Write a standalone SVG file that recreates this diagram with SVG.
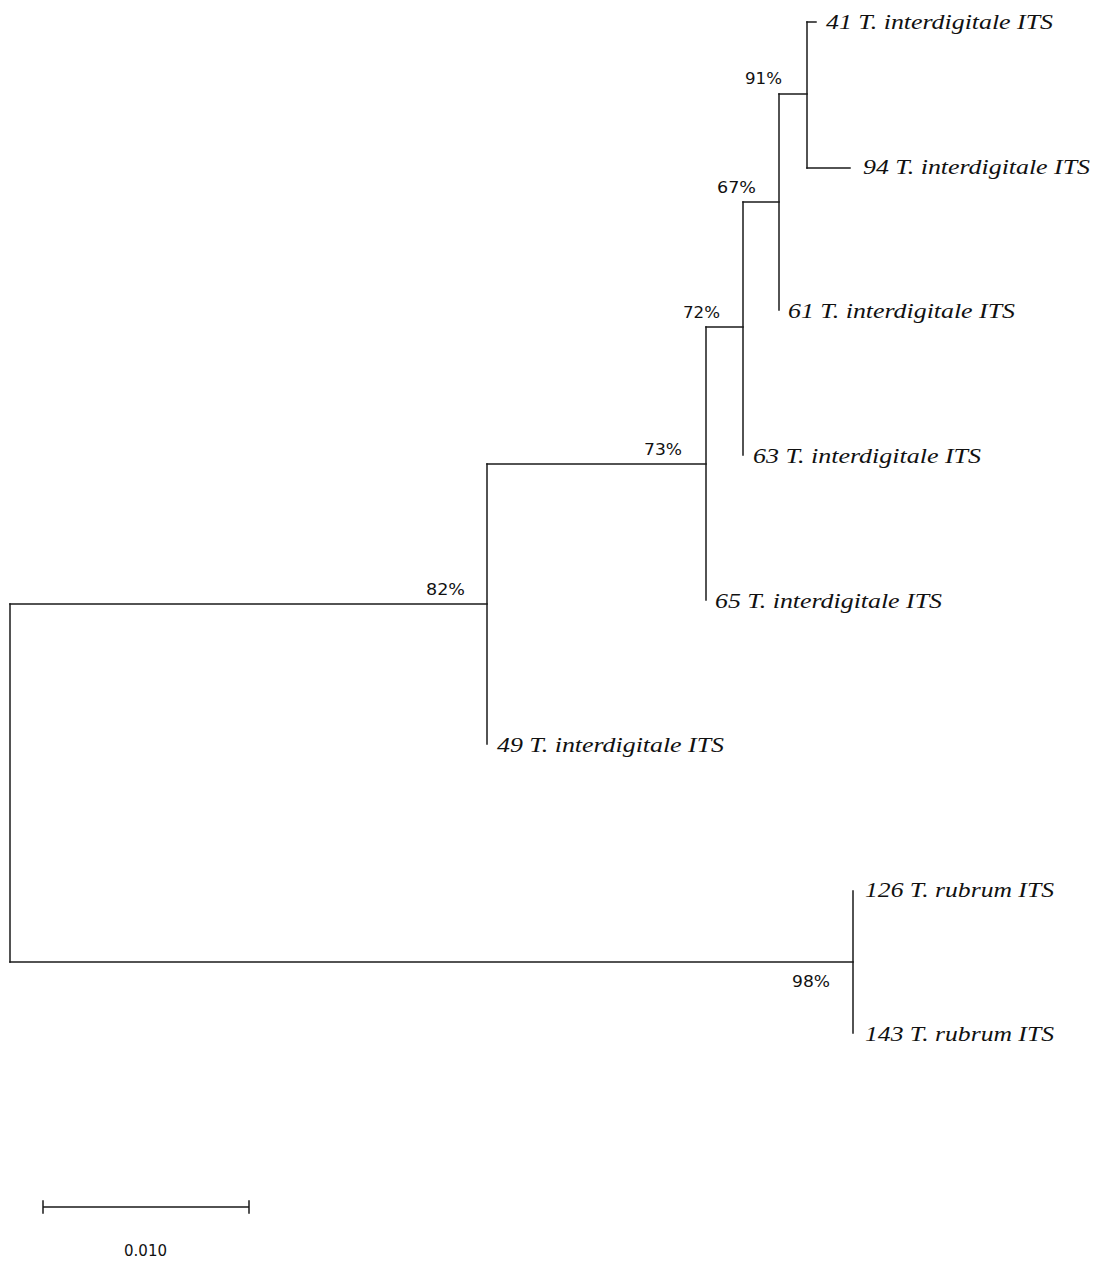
<svg xmlns="http://www.w3.org/2000/svg" width="1100" height="1264" viewBox="0 0 1100 1264">
<style>
.br{fill:none;stroke:#1a1a1a;stroke-width:1.5;stroke-linecap:square}
.leaf{font-family:"Liberation Serif","Times New Roman",serif;font-style:italic;font-size:22px;fill:#111}
.bs{font-family:"DejaVu Sans","Verdana",sans-serif;font-size:15px;fill:#111}
</style>
<rect width="1100" height="1264" fill="#fff"/>
<g id="connectors">
<path class="br" d="M10,604 V962"/>
<path class="br" d="M10,604 H487"/>
<path class="br" d="M10,962 H853"/>
<path class="br" d="M487,464 V744"/>
<path class="br" d="M487,464 H706"/>
<path class="br" d="M706,327 V600"/>
<path class="br" d="M706,327 H743"/>
<path class="br" d="M743,202 V455"/>
<path class="br" d="M743,202 H779"/>
<path class="br" d="M779,94 V310"/>
<path class="br" d="M779,94 H807"/>
<path class="br" d="M807,22 V168"/>
<path class="br" d="M807,22 H816"/>
<path class="br" d="M807,168 H850"/>
<path class="br" d="M853,891 V1033"/>
</g>
<g id="leaf-41"><text class="leaf" x="826" y="29" textLength="227" lengthAdjust="spacingAndGlyphs">41 T. interdigitale ITS</text></g>
<g id="leaf-94"><text class="leaf" x="863" y="174" textLength="227" lengthAdjust="spacingAndGlyphs">94 T. interdigitale ITS</text></g>
<g id="leaf-61"><text class="leaf" x="788" y="318" textLength="227" lengthAdjust="spacingAndGlyphs">61 T. interdigitale ITS</text></g>
<g id="leaf-63"><text class="leaf" x="753" y="463" textLength="228" lengthAdjust="spacingAndGlyphs">63 T. interdigitale ITS</text></g>
<g id="leaf-65"><text class="leaf" x="715" y="608" textLength="227" lengthAdjust="spacingAndGlyphs">65 T. interdigitale ITS</text></g>
<g id="leaf-49"><text class="leaf" x="497" y="752" textLength="227" lengthAdjust="spacingAndGlyphs">49 T. interdigitale ITS</text></g>
<g id="leaf-126"><text class="leaf" x="865" y="897" textLength="189" lengthAdjust="spacingAndGlyphs">126 T. rubrum ITS</text></g>
<g id="leaf-143"><text class="leaf" x="865" y="1041" textLength="189" lengthAdjust="spacingAndGlyphs">143 T. rubrum ITS</text></g>
<g id="support-91"><text class="bs" x="745" y="84" textLength="37" lengthAdjust="spacingAndGlyphs">91%</text></g>
<g id="support-67"><text class="bs" x="717" y="193" textLength="39" lengthAdjust="spacingAndGlyphs">67%</text></g>
<g id="support-72"><text class="bs" x="683" y="318" textLength="37" lengthAdjust="spacingAndGlyphs">72%</text></g>
<g id="support-73"><text class="bs" x="644" y="455" textLength="38" lengthAdjust="spacingAndGlyphs">73%</text></g>
<g id="support-82"><text class="bs" x="426" y="595" textLength="39" lengthAdjust="spacingAndGlyphs">82%</text></g>
<g id="support-98"><text class="bs" x="792" y="987" textLength="38" lengthAdjust="spacingAndGlyphs">98%</text></g>
<g id="scale-bar">
<path class="br" d="M43,1207 H249 M43,1201 V1213 M249,1201 V1213"/>
<text class="bs" x="124" y="1256" textLength="43" lengthAdjust="spacingAndGlyphs">0.010</text>
</g>
</svg>
